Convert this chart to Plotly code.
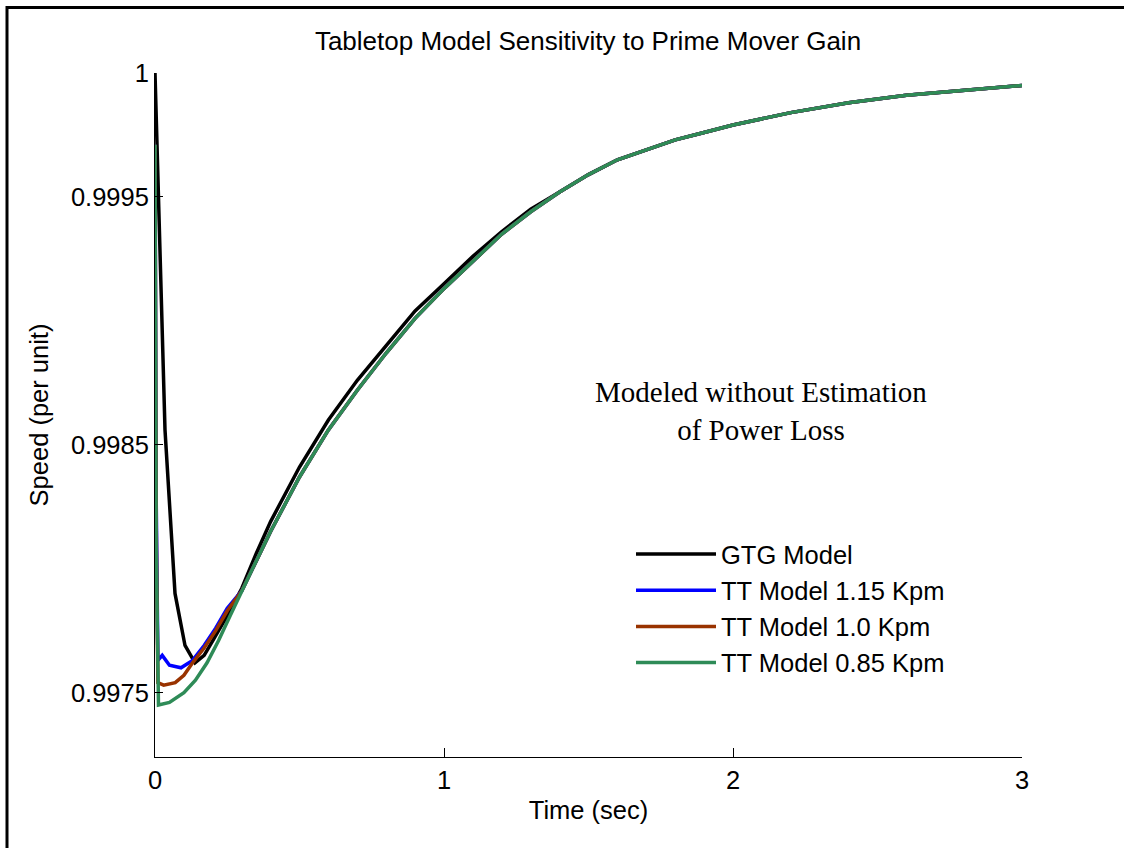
import plotly.graph_objects as go

# ---------------- data ----------------
series_names = ["GTG Model", "TT Model 1.15 Kpm", "TT Model 1.0 Kpm", "TT Model 0.85 Kpm"]
series_colors = ["#000000", "#0000FF", "#993300", "#2E8B57"]

# early transient (per series)
gtg_head_t = [0.0, 0.0346, 0.0692, 0.1038, 0.1384, 0.17, 0.20, 0.25]
gtg_head_v = [1.0, 0.99856, 0.99790, 0.99769, 0.99762, 0.99765, 0.99771, 0.99781]

blue_head_t = [0.0, 0.004, 0.01, 0.025, 0.05, 0.09, 0.13, 0.17, 0.21, 0.25]
blue_head_v = [0.99971, 0.99830, 0.99763, 0.99765, 0.99761, 0.99760, 0.99763, 0.99769, 0.99776, 0.99784]

brown_head_t = [0.0, 0.004, 0.01, 0.03, 0.07, 0.10, 0.13, 0.17, 0.21, 0.25]
brown_head_v = [0.99971, 0.99820, 0.99754, 0.99753, 0.99754, 0.99757, 0.99762, 0.99768, 0.99775, 0.99783]

green_head_t = [0.0, 0.004, 0.012, 0.05, 0.10, 0.14, 0.18, 0.22, 0.26]
green_head_v = [0.99971, 0.99810, 0.99745, 0.99746, 0.99750, 0.99755, 0.99762, 0.99771, 0.99781]

# recovery (shared time base)
tail_t = [0.30, 0.35, 0.40, 0.45, 0.50, 0.60, 0.70, 0.80, 0.90, 1.00, 1.10, 1.20, 1.30,
          1.40, 1.50, 1.60, 1.70, 1.80, 1.90, 2.00, 2.20, 2.40, 2.60, 2.80, 3.00]
gtg_tail_v = [0.99792, 0.99806, 0.99819, 0.99830, 0.99841, 0.99860, 0.99876, 0.99890, 0.99904,
              0.99915, 0.99926, 0.99936, 0.99945, 0.99952, 0.99959, 0.99965, 0.99969, 0.99973,
              0.99976, 0.99979, 0.99984, 0.99988, 0.99991, 0.99993, 0.99995]
tt_tail_v = [0.99791, 0.99803, 0.99815, 0.99826, 0.99837, 0.99856, 0.99872, 0.99887, 0.99901,
             0.99913, 0.99924, 0.99935, 0.99944, 0.99952, 0.99959, 0.99965, 0.99969, 0.99973,
             0.99976, 0.99979, 0.99984, 0.99988, 0.99991, 0.99993, 0.99995]

x_tickvals = [0, 1, 2, 3]
x_ticktext = ["0", "1", "2", "3"]
y_tickvals = [0.9975, 0.9985, 0.9995, 1.0]
y_ticktext = ["0.9975", "0.9985", "0.9995", "1"]

title_text = "Tabletop Model Sensitivity to Prime Mover Gain"
x_title = "Time (sec)"
y_title = "Speed (per unit)"
note_text = "Modeled without Estimation<br>of Power Loss"

# ---------------- figure ----------------
xs = [gtg_head_t + tail_t, blue_head_t + tail_t, brown_head_t + tail_t, green_head_t + tail_t]
ys = [gtg_head_v + gtg_tail_v, blue_head_v + tt_tail_v, brown_head_v + tt_tail_v, green_head_v + tt_tail_v]

W, H = 1124, 848
L, R, T, B = 155, 102, 73, 91
pw, ph = W - L - R, H - T - B

def px_x(px):
    return (px - L) / pw

def px_y(py):
    return (H - B - py) / ph

SANS = "Liberation Sans, Arial, Helvetica, sans-serif"
SERIF = "Liberation Serif, Times New Roman, serif"
FS = 25.5

fig = go.Figure()
for name, color, x, y in zip(series_names, series_colors, xs, ys):
    fig.add_trace(go.Scatter(x=x, y=y, mode="lines", name=name,
                             line=dict(color=color, width=3.5)))

fig.update_layout(
    width=W, height=H, autosize=False,
    margin=dict(l=L, r=R, t=T, b=B),
    paper_bgcolor="white", plot_bgcolor="white",
    font=dict(family=SANS, size=FS, color="black"),
    title=dict(text=title_text, x=px_x(588), xanchor="center", xref="paper",
               y=1 - 41 / H, yanchor="middle", font=dict(size=26, family=SANS, color="black")),
    showlegend=True,
    legend=dict(x=px_x(631), y=px_y(531), xanchor="left", yanchor="top",
                bgcolor="rgba(0,0,0,0)", borderwidth=0, itemwidth=80,
                font=dict(size=FS, family=SANS, color="black"), tracegroupgap=0),
)

fig.update_xaxes(range=[0, 3], tickvals=x_tickvals, ticktext=x_ticktext,
                 ticks="inside", ticklen=9, tickwidth=1, tickcolor="black",
                 showline=True, linecolor="black", linewidth=1, mirror=False,
                 showgrid=False, zeroline=False,
                 tickfont=dict(size=FS, family=SANS, color="black"),
                 title=dict(text=x_title, standoff=8, font=dict(size=FS, family=SANS, color="black")))
fig.update_yaxes(range=[0.99724, 1.0], tickvals=y_tickvals, ticktext=y_ticktext,
                 ticks="inside", ticklen=8, tickwidth=1, tickcolor="black",
                 showline=True, linecolor="black", linewidth=1, mirror=False,
                 showgrid=False, zeroline=False,
                 tickfont=dict(size=FS, family=SANS, color="black"),
                 ticklabelstandoff=0,
                 title=dict(text=y_title, standoff=14, font=dict(size=FS, family=SANS, color="black")))

fig.add_annotation(text=note_text, xref="paper", yref="paper",
                   x=px_x(760.5), y=px_y(410.5), xanchor="center", yanchor="middle",
                   showarrow=False, align="center",
                   font=dict(family=SERIF, size=29, color="black"))

# outer figure frame (only the left and top edges fall inside the reference picture)
frame = dict(color="black", width=3)
fig.add_shape(type="line", xref="paper", yref="paper",
              x0=px_x(7), x1=px_x(7), y0=px_y(H + 5), y1=px_y(6), line=frame, layer="above")
fig.add_shape(type="line", xref="paper", yref="paper",
              x0=px_x(6), x1=px_x(W + 5), y0=px_y(7.5), y1=px_y(7.5), line=frame, layer="above")

fig.write_html("out.html")
